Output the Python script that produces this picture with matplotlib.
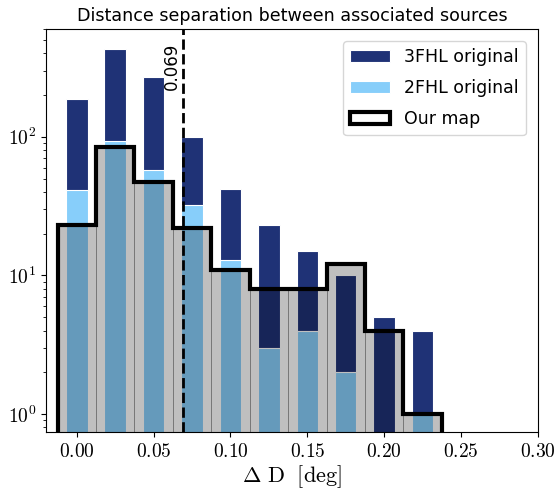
import matplotlib
matplotlib.use('Agg')
import matplotlib.pyplot as plt
import matplotlib.ticker as mticker
import numpy as np

# 字体：刻度用cm数学字体，标题和图例用无衬线
plt.rcParams['mathtext.fontset'] = 'cm'
plt.rcParams['font.family'] = ['DejaVu Sans']

# 分箱中心与边界
bin_centers = [0.0, 0.025, 0.05, 0.075, 0.10, 0.125, 0.15, 0.175, 0.20, 0.225]
bin_edges = [-0.0125, 0.0125, 0.0375, 0.0625, 0.0875, 0.1125, 0.1375, 0.1625, 0.1875, 0.2125, 0.2375]

# 各目录的计数
counts_3fhl = [187, 433, 268, 99, 42, 23, 15, 10, 5, 4]
counts_2fhl = [41, 93, 58, 32, 13, 3, 4, 2, 0, 1]
counts_ours = [23, 85, 47, 22, 11, 8, 8, 12, 4, 1]

cut_value = 0.069

fig = plt.figure(figsize=(5.55, 4.99), dpi=100)
ax = fig.add_axes([0.083, 0.134, 0.886, 0.808])

ax.hist(bin_centers, bins=bin_edges, weights=counts_3fhl, rwidth=0.56, log=True,
        color='#1f3276', edgecolor='white', linewidth=0.8, label='3FHL original')
ax.hist(bin_centers, bins=bin_edges, weights=counts_2fhl, rwidth=0.56, log=True,
        color='#87cefa', edgecolor='white', linewidth=0.8, label='2FHL original')
ax.hist(bin_centers, bins=bin_edges, weights=counts_ours, log=True,
        color='k', alpha=0.25, edgecolor='k', linewidth=0.6)
ax.hist(bin_centers, bins=bin_edges, weights=counts_ours, log=True,
        histtype='step', color='k', linewidth=3, label='Our map')

ax.axvline(cut_value, color='k', linestyle='--', linewidth=2)
ax.text(cut_value - 0.001, 0.965, '%.3f' % cut_value, rotation=90, ha='right', va='top',
        fontsize=12, transform=ax.get_xaxis_transform())

ax.set_xlim(-0.02, 0.30)
ax.set_ylim(0.74, 600)
ax.xaxis.set_major_formatter(mticker.FuncFormatter(lambda v, p: r'$%.2f$' % v))
ax.yaxis.set_major_formatter(mticker.FuncFormatter(lambda v, p: r'$10^{%d}$' % round(np.log10(v))))
ax.tick_params(labelsize=14)
ax.set_xlabel(r'$\Delta\ \mathrm{D}\ \ [\mathrm{deg}]$', fontsize=16, labelpad=2)
ax.set_title('Distance separation between associated sources', fontsize=12.6)

ax.legend(loc='upper right', fontsize=12.5, labelspacing=0.75, handlelength=2.3,
          borderaxespad=0.7)

fig.savefig('out.png', dpi=100)
